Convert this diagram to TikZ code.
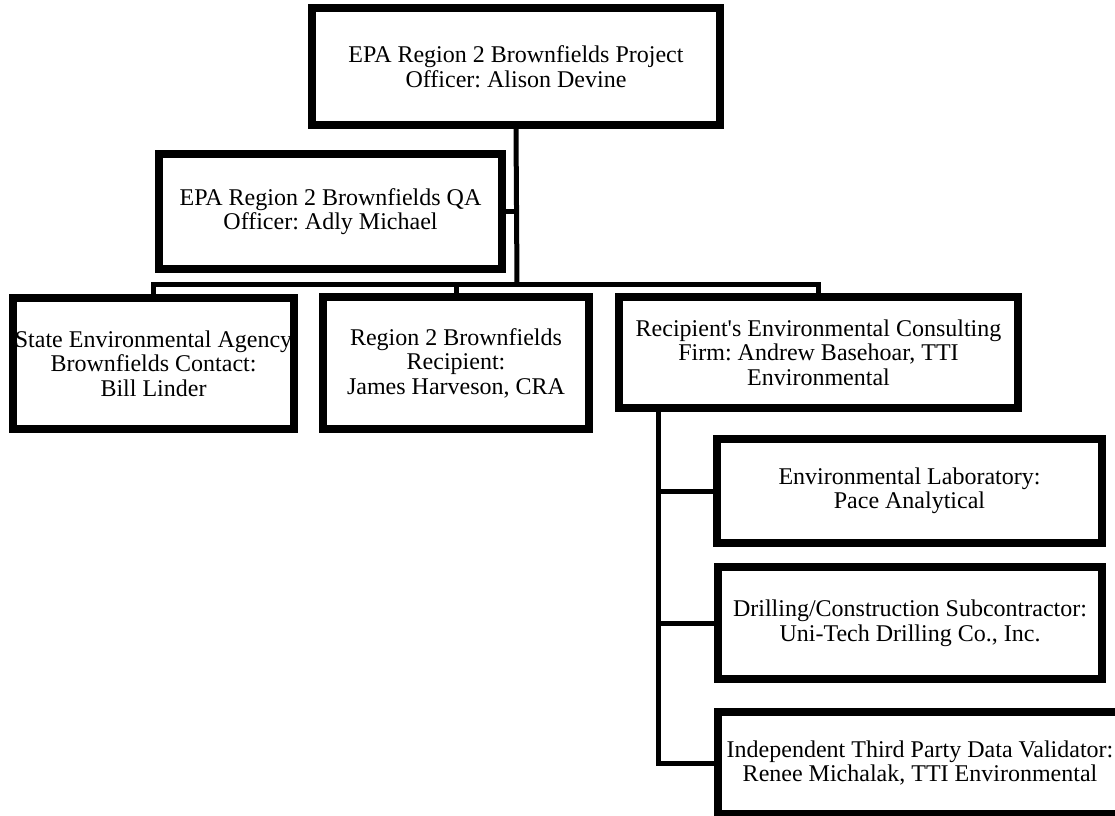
\documentclass[tikz,border=0pt]{standalone}
\usepackage{fontspec}
\setmainfont{Liberation Serif}
\usepackage{tikz}
\frenchspacing

\begin{document}
\begin{tikzpicture}
[x=1pt,y=-1pt,
 box/.style={draw,line width=8pt,fill=white,inner sep=0pt,align=center,
   font=\fontsize{24}{24.5}\selectfont},
 link/.style={line width=5pt}]
\useasboundingbox (0,0) rectangle (1115,815);
\clip (0,0) rectangle (1115,815);

\node[box,minimum width=408,minimum height=117] (po) at (516,66.5)
  {EPA Region 2 Brownfields Project\\Officer: Alison Devine};
\node[box,minimum width=343,minimum height=115] (qa) at (330.5,211.5)
  {EPA Region 2 Brownfields QA\\Officer: Adly Michael};

\node[box,minimum width=281,minimum height=131] (state) at (153.5,363.5)
  {State Environmental Agency\\Brownfields Contact:\\Bill Linder};
\node[box,minimum width=266,minimum height=132] (rec) at (456,363)
  {Region 2 Brownfields\\Recipient:\\James Harveson, CRA};
\node[box,minimum width=399,minimum height=111] (firm) at (818.5,352.5)
  {Recipient\textquotesingle s Environmental Consulting\\Firm: Andrew Basehoar, TTI\\Environmental};

\node[box,minimum width=385,minimum height=104] (lab) at (909.5,491)
  {Environmental Laboratory:\\Pace Analytical};
\node[box,minimum width=384,minimum height=112] (drill) at (910,623)
  {Drilling/Construction Subcontractor:\\Uni-Tech Drilling Co., Inc.};
\node[box,minimum width=404,minimum height=102] (valid) at (920,763)
  {Independent Third Party Data Validator:\\Renee Michalak, TTI Environmental};

\coordinate (bus) at (517,284);
\coordinate (trunk) at (658,408);

\draw[link] (po.south) -- (bus);
\draw[link] (qa.east) -- (qa.east -| bus);
\draw[link] (state.north) -- (state.north |- bus) -- (firm.north |- bus) -- (firm.north);
\draw[link] (rec.north) -- (rec.north |- bus);
\draw[link] (trunk) -- (trunk |- valid.west) -- (valid.west);
\foreach \to in {lab,drill}
\draw[link] (trunk |- \to.west) -- (\to.west);
\end{tikzpicture}
\end{document}
